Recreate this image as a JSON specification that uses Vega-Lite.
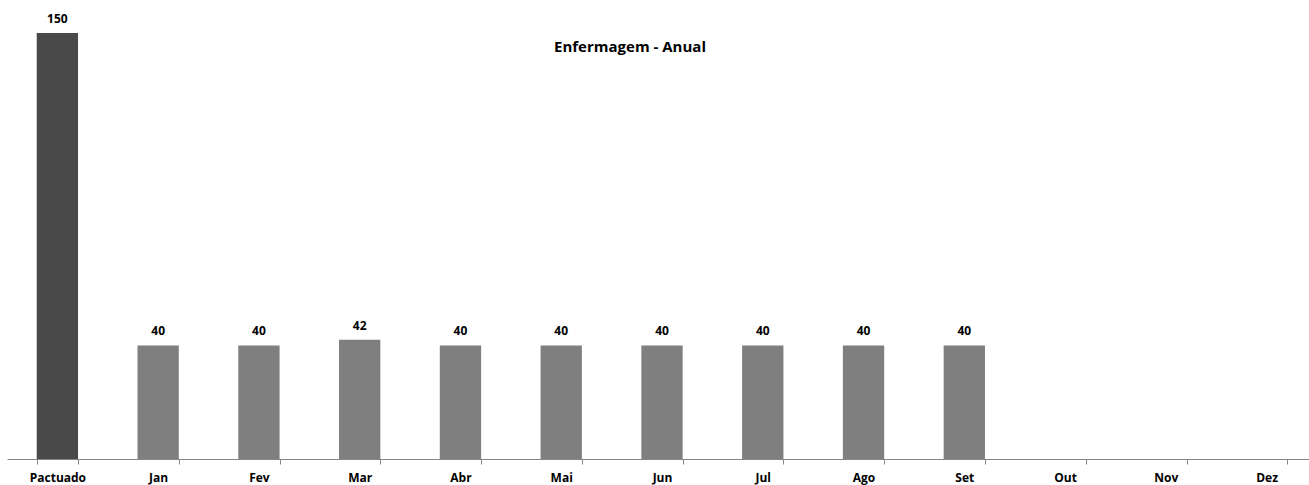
{
  "$schema": "https://vega.github.io/schema/vega-lite/v6.json",
  "width": 1310,
  "height": 426,
  "autosize": {"type": "none"},
  "padding": {"left": 7, "top": 33, "right": 0, "bottom": 26},
  "background": "white",
  "datasets": {
    "meses": [
      {"mes": "Pactuado", "valor": 150, "tipo": "meta"},
      {"mes": "Jan", "valor": 40, "tipo": "real"},
      {"mes": "Fev", "valor": 40, "tipo": "real"},
      {"mes": "Mar", "valor": 42, "tipo": "real"},
      {"mes": "Abr", "valor": 40, "tipo": "real"},
      {"mes": "Mai", "valor": 40, "tipo": "real"},
      {"mes": "Jun", "valor": 40, "tipo": "real"},
      {"mes": "Jul", "valor": 40, "tipo": "real"},
      {"mes": "Ago", "valor": 40, "tipo": "real"},
      {"mes": "Set", "valor": 40, "tipo": "real"},
      {"mes": "Out", "valor": null, "tipo": "real"},
      {"mes": "Nov", "valor": null, "tipo": "real"},
      {"mes": "Dez", "valor": null, "tipo": "real"}
    ],
    "titulo": [
      {"titulo": "Enfermagem - Anual", "mes": "Jun", "valor": 145}
    ]
  },
  "layer": [
    {
      "data": {"name": "meses"},
      "mark": {"type": "bar", "orient": "vertical"},
      "encoding": {
        "x": {
          "field": "mes",
          "type": "nominal",
          "sort": null,
          "scale": {
            "domain": ["Pactuado", "Jan", "Fev", "Mar", "Abr", "Mai", "Jun", "Jul", "Ago", "Set", "Out", "Nov", "Dez"],
            "paddingInner": 0.59,
            "paddingOuter": 0.295
          },
          "axis": {
            "title": null,
            "labelAngle": 0,
            "tickBand": "extent",
            "domainColor": "#868686",
            "tickColor": "#868686",
            "tickSize": 5,
            "labelFont": "Open Sans",
            "labelFontSize": 12,
            "labelFontWeight": "bold",
            "labelColor": "#000000",
            "labelPadding": 8
          }
        },
        "y": {
          "field": "valor",
          "type": "quantitative",
          "scale": {"domain": [0, 150], "nice": false},
          "axis": null
        },
        "color": {
          "field": "tipo",
          "type": "nominal",
          "scale": {"domain": ["meta", "real"], "range": ["#494949", "#7f7f7f"]},
          "legend": null
        }
      }
    },
    {
      "data": {"name": "meses"},
      "mark": {
        "type": "text",
        "baseline": "bottom",
        "dy": -7,
        "font": "Open Sans",
        "fontSize": 12,
        "fontWeight": "bold",
        "color": "#000000"
      },
      "encoding": {
        "x": {"field": "mes", "type": "nominal", "sort": null},
        "y": {"field": "valor", "type": "quantitative"},
        "text": {"field": "valor", "type": "quantitative"}
      }
    },
    {
      "data": {"name": "titulo"},
      "mark": {
        "type": "text",
        "baseline": "middle",
        "align": "center",
        "dx": -32,
        "font": "Open Sans",
        "fontSize": 15,
        "fontWeight": "bold",
        "color": "#000000"
      },
      "encoding": {
        "x": {"field": "mes", "type": "nominal", "sort": null},
        "y": {"field": "valor", "type": "quantitative"},
        "text": {"field": "titulo", "type": "nominal"}
      }
    }
  ],
  "config": {"view": {"stroke": null}}
}
